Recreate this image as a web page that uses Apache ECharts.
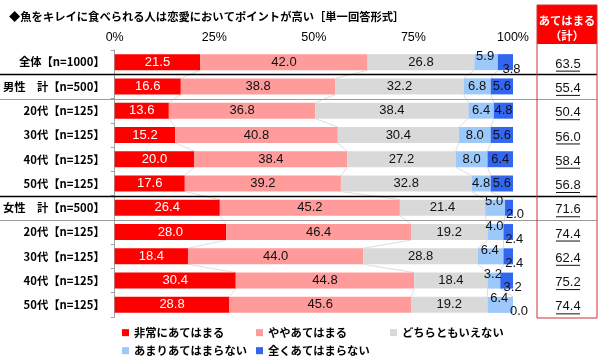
<!DOCTYPE html>
<html><head><meta charset="utf-8">
<script src="https://cdn.jsdelivr.net/npm/echarts@6/dist/echarts.min.js"></script>
<style>html,body{margin:0;padding:0;background:#fff}#c{width:600px;height:359px}</style>
</head><body><div id="c"></div>
<script>
const titleText = '◆魚をキレイに食べられる人は恋愛においてポイントが高い［単一回答形式］';
const categories = ['全体【n=1000】','男性　計【n=500】','20代【n=125】','30代【n=125】','40代【n=125】','50代【n=125】','女性　計【n=500】','20代【n=125】','30代【n=125】','40代【n=125】','50代【n=125】'];
const seriesNames = ['非常にあてはまる','ややあてはまる','どちらともいえない','あまりあてはまらない','全くあてはまらない'];
const verySo   = [21.5,16.6,13.6,15.2,20.0,17.6,26.4,28.0,18.4,30.4,28.8];
const somewhat = [42.0,38.8,36.8,40.8,38.4,39.2,45.2,46.4,44.0,44.8,45.6];
const neither  = [26.8,32.2,38.4,30.4,27.2,32.8,21.4,19.2,28.8,18.4,19.2];
const notMuch  = [5.9,6.8,6.4,8.0,8.0,4.8,5.0,4.0,6.4,3.2,6.4];
const notAtAll = [3.8,5.6,4.8,5.6,6.4,5.6,2.0,2.4,2.4,3.2,0.0];
const totals   = ['63.5','55.4','50.4','56.0','58.4','56.8','71.6','74.4','62.4','75.2','74.4'];
const xTicks = [0,25,50,75,100];
const tableHeader = ['あてはまる','（計）'];

const colors = ['#FF0000','#FF9B9B','#D9D9D9','#9CC8FA','#3366F0'];
const allData = [verySo, somewhat, neither, notMuch, notAtAll];
const numFont = 'Liberation Sans, Arial, sans-serif';
const jpFont = '"Noto Sans CJK JP", sans-serif';
const BAR_W = 16;

const chart = echarts.init(document.getElementById('c'), null, {renderer:'canvas'});

function buildData(si){
  return allData[si].map((v,i)=>{
    const crowded = notAtAll[i] < 4;
    if (crowded && si===3) return {value:v, label:{offset:[-1,-6]}};
    if (crowded && si===4) return {value:v, label:{offset:[6,7]}};
    return v;
  });
}

const series = seriesNames.map((name,si)=>({
  name, type:'bar', stack:'all', barWidth:BAR_W, z:3,
  itemStyle:{color:colors[si]},
  label:{show:true, position:'inside', color: si===0?'#fff':'#111', fontSize:13, fontFamily:numFont,
    formatter:p=>Number(p.value).toFixed(1)},
  data: buildData(si)
}));

// connector lines between adjacent bars (segment boundaries)
function cumAt(k, i){ let s=0; for(let j=0;j<k;j++) s+=allData[j][i]; return s; }
series.push({
  type:'custom', name:'connectors', z:1, silent:true,
  data: categories.slice(0,-1).map((c,i)=>[0,i]),
  encode:{x:0, y:1},
  renderItem:(params, api)=>{
    const i = api.value(1);
    const children = [];
    for (let k=1;k<=4;k++){
      const a = api.coord([cumAt(k,i), i]);
      const b = api.coord([cumAt(k,i+1), i+1]);
      children.push({type:'line', shape:{x1:a[0], y1:a[1]+BAR_W/2, x2:b[0], y2:b[1]-BAR_W/2},
        style:{stroke:'#d4d4d4', lineWidth:0.8}});
    }
    return {type:'group', children};
  }
});

const legendPos = [[117,322],[251,322],[385,322],[117,340],[251,340]];
const legends = seriesNames.map((n,i)=>({
  data:[n], left:legendPos[i][0], top:legendPos[i][1], icon:'rect', itemWidth:7, itemHeight:7,
  textStyle:{fontSize:11.3, fontWeight:'bold', color:'#000', fontFamily:jpFont}
}));

chart.setOption({
  animation:false,
  title:{text:titleText, left:4, top:6, textStyle:{fontSize:11.3, fontWeight:'bold', color:'#000', fontFamily:jpFont}},
  grid:{left:110, top:50, width:403, height:267, containLabel:false},
  xAxis:{type:'value', position:'top', min:0, max:100, interval:25,
    axisLine:{show:false}, axisTick:{show:false}, splitLine:{show:false},
    axisLabel:{margin:6, color:'#000', fontSize:12.5, fontFamily:numFont,
      formatter:v=> xTicks.includes(v)? v+'%':''}},
  yAxis:{type:'category', inverse:true, data:categories,
    axisLine:{show:true, lineStyle:{color:'#a0a0a0', width:1}},
    axisTick:{show:true, length:4, lineStyle:{color:'#a0a0a0'}},
    axisLabel:{margin:10, color:'#000', fontSize:11.3, fontWeight:'bold', fontFamily:jpFont}},
  legend:legends,
  series
});

// table & separators
const yc = categories.map((c,i)=>chart.convertToPixel({yAxisIndex:0}, i));
const step = yc[1]-yc[0];
const gfx = [];
const boxL=537, boxR=597, boxT=5, headB=44, boxB=318, cx=(boxL+boxR)/2;
gfx.push({type:'rect', shape:{x:boxL,y:boxT,width:boxR-boxL,height:headB-boxT}, style:{fill:'#FF0000'}, z:10});
gfx.push({type:'rect', shape:{x:boxL,y:boxT,width:boxR-boxL,height:boxB-boxT}, style:{fill:null, stroke:'#D03030', lineWidth:1}, z:11});
gfx.push({type:'text', x:cx, y:21, style:{text:tableHeader[0], fill:'#fff', font:'bold 11.3px "Noto Sans CJK JP"', textAlign:'center', textVerticalAlign:'middle'}, z:12});
gfx.push({type:'text', x:cx, y:36, style:{text:tableHeader[1], fill:'#fff', font:'bold 11.3px "Noto Sans CJK JP"', textAlign:'center', textVerticalAlign:'middle'}, z:12});
totals.forEach((t,i)=>{
  gfx.push({type:'text', x:cx+1, y:yc[i]+2, style:{text:t, fill:'#111', font:'13px "Liberation Sans"', textAlign:'center', textVerticalAlign:'middle'}, z:12});
  gfx.push({type:'line', shape:{x1:cx-11, y1:yc[i]+9, x2:cx+13, y2:yc[i]+9}, style:{stroke:'#111', lineWidth:1}, z:12});
});
// separators between groups
[[0,'#000',1.5],[1,'#9a9a9a',1],[5,'#000',1.5],[6,'#9a9a9a',1]].forEach(([i,col,w])=>{
  const y = Math.round(yc[i]+step/2)+0.5;
  gfx.push({type:'line', shape:{x1:0,y1:y,x2:boxR,y2:y}, style:{stroke:col, lineWidth:w}, z:9});
});
chart.setOption({graphic:gfx});
</script></body></html>
